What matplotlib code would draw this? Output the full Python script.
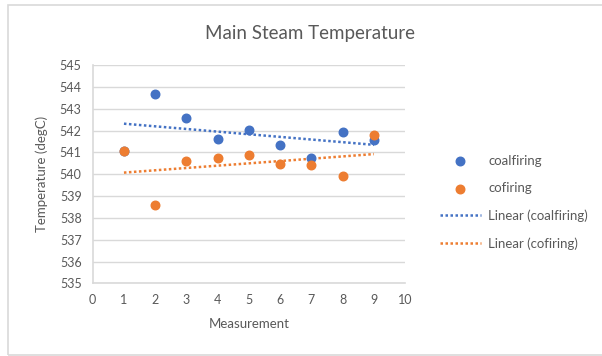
import numpy as np
import matplotlib
matplotlib.use("Agg")
import matplotlib.pyplot as plt
from matplotlib.patches import Rectangle

plt.rcParams['font.family'] = ['Lato', 'DejaVu Sans']

# data
measurement = [1, 2, 3, 4, 5, 6, 7, 8, 9]
coalfiring = [541.05, 543.67, 542.59, 541.63, 542.02, 541.34, 540.73, 541.92, 541.55]
cofiring = [541.06, 538.59, 540.62, 540.73, 540.86, 540.48, 540.44, 539.90, 541.82]
y_ticks = [535, 536, 537, 538, 539, 540, 541, 542, 543, 544, 545]
x_ticks = [0, 1, 2, 3, 4, 5, 6, 7, 8, 9, 10]

blue = '#4472C4'
orange = '#ED7D31'
gray = '#595959'

fig = plt.figure(figsize=(6.02, 3.56), dpi=100)
ax = fig.add_axes([0.154, 0.204, 0.519, 0.613])

# outer chart border
fig.patches.append(Rectangle((8 / 602, 1 / 356), 600 / 602, 350 / 356, transform=fig.transFigure,
                             fill=False, edgecolor='#d9d9d9', linewidth=1.2))

ax.scatter(measurement, coalfiring, s=38, color=blue, zorder=3, label='coalfiring')
ax.scatter(measurement, cofiring, s=38, color=orange, zorder=3, label='cofiring')

x = np.array(measurement)
for ys, c, name in [(coalfiring, blue, 'coalfiring'), (cofiring, orange, 'cofiring')]:
    k, b = np.polyfit(x, ys, 1)
    ax.plot([x[0], x[-1]], [k * x[0] + b, k * x[-1] + b], linestyle=(0, (1, 1)),
            linewidth=1.8, color=c, zorder=2, label='Linear (%s)' % name)

ax.set_xlim(0, 10)
ax.set_ylim(535, 545)
ax.set_xticks(x_ticks)
ax.set_yticks(y_ticks)
ax.tick_params(length=0, labelsize=9, colors=gray, pad=8)
ax.grid(axis='y', color='#d9d9d9', linewidth=1)
ax.set_axisbelow(True)
for s in ['top', 'right']:
    ax.spines[s].set_visible(False)
for s in ['left', 'bottom']:
    ax.spines[s].set_color('#d9d9d9')
    ax.spines[s].set_linewidth(1.2)

ax.set_xlabel('Measurement', fontsize=9.5, color=gray, labelpad=8)
ax.set_ylabel('Temperature (degC)', fontsize=9.5, color=gray, labelpad=8)
fig.text(0.515, 0.905, 'Main Steam Temperature', ha='center', va='center', fontsize=13.5, color=gray)

leg = ax.legend(loc='center left', bbox_to_anchor=(0.711, 0.432), bbox_transform=fig.transFigure,
                frameon=False, fontsize=9.5, labelspacing=1.15, handlelength=3.1,
                handletextpad=0.55, borderpad=0.4)
for t in leg.get_texts():
    t.set_color(gray)

fig.savefig('out.png', dpi=100)
